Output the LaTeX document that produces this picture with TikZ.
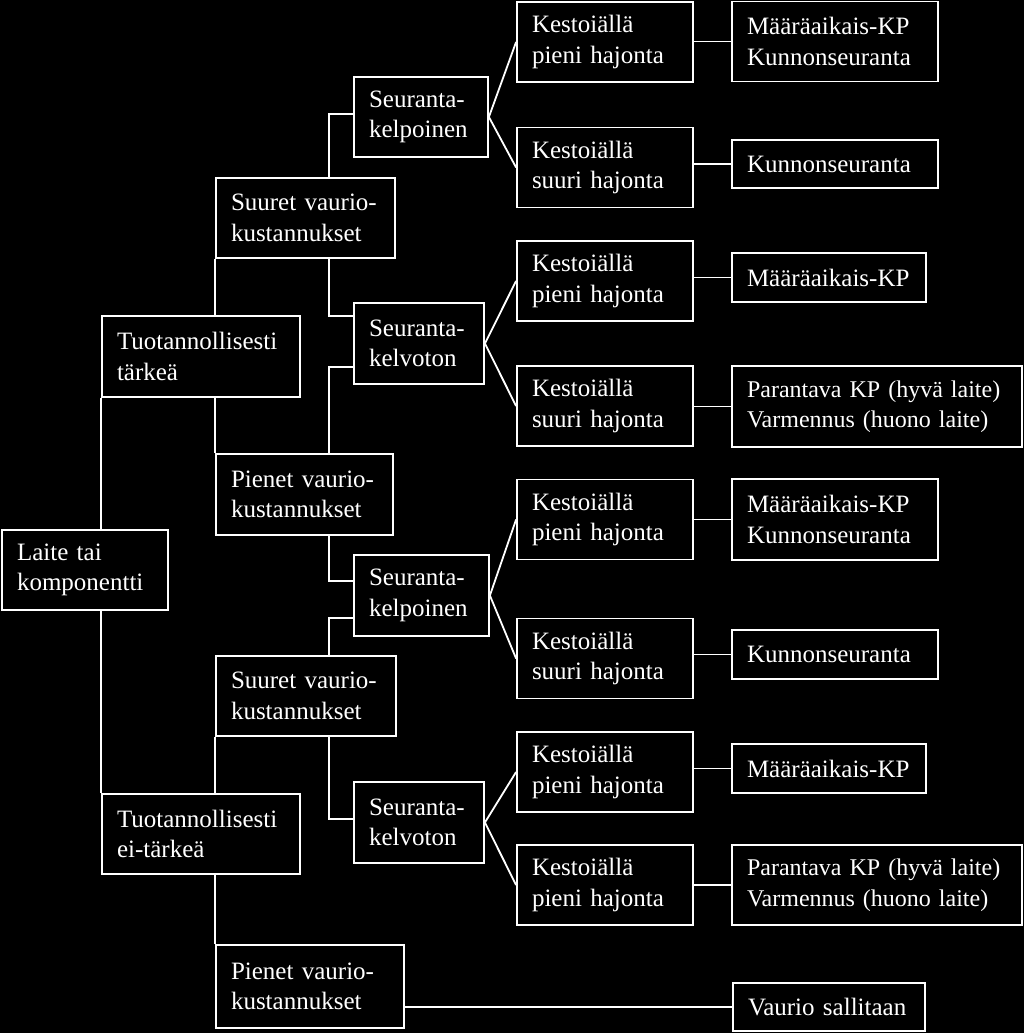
\documentclass[tikz,border=0pt]{standalone}
\usepackage{fontspec}
\setmainfont{Liberation Serif}
\usetikzlibrary{calc}
\tikzset{
  bx/.code 2 args={\pgfmathsetlengthmacro\bxw{#1-30pt}%
    \edef\bxtmp{\noexpand\pgfkeysalso{minimum width=#1, minimum height=#2, text width=\bxw}}\bxtmp},
  box/.style={draw=white, line width=1.8pt, text=white, align=left,
    inner xsep=15pt, inner ysep=2pt,
    font=\fontsize{25}{30.5}\selectfont},
  smallbox/.style={box, font=\fontsize{24}{30.5}\selectfont},
  conn/.style={draw=white, line width=1.8pt}
}
\begin{document}
\begin{tikzpicture}[x=1pt,y=-1pt]
\fill[black] (0,0) rectangle (1024,1033);
\useasboundingbox (0,0) rectangle (1024,1033);
% level 0
\node[box, bx={166pt}{80pt}] (laite) at (85,570) {Laite tai\\komponentti};
% level 1
\node[box, bx={198pt}{81pt}] (tt) at (201,356.5) {Tuotannollisesti\\tärkeä};
\node[box, bx={198pt}{80pt}] (te) at (201,834) {Tuotannollisesti\\ei-tärkeä};
% level 2
\node[box, bx={179pt}{80pt}] (st1) at (305.5,218) {Suuret vaurio-\\kustannukset};
\node[box, bx={177pt}{81pt}] (pt1) at (304.5,494.5) {Pienet vaurio-\\kustannukset};
\node[box, bx={180pt}{80pt}] (st2) at (306,696) {Suuret vaurio-\\kustannukset};
\node[box, bx={188pt}{83pt}] (pt2) at (310,986.5) {Pienet vaurio-\\kustannukset};
% level 3
\node[box, bx={134pt}{80pt}] (sk1) at (421,117) {Seuranta-\\kelpoinen};
\node[box, bx={130pt}{81pt}] (sv1) at (419,343.5) {Seuranta-\\kelvoton};
\node[box, bx={135pt}{81pt}] (sk2) at (421.5,595.5) {Seuranta-\\kelpoinen};
\node[box, bx={130pt}{81pt}] (sv2) at (419,822.5) {Seuranta-\\kelvoton};
% level 4
\node[box, bx={176pt}{80pt}] (k1) at (605,42) {Kestoiällä\\pieni hajonta};
\node[box, bx={176pt}{80pt}] (k2) at (605,167.5) {Kestoiällä\\suuri hajonta};
\node[box, bx={176pt}{80pt}] (k3) at (605,281) {Kestoiällä\\pieni hajonta};
\node[box, bx={176pt}{80pt}] (k4) at (605,406) {Kestoiällä\\suuri hajonta};
\node[box, bx={176pt}{80pt}] (k5) at (605,519.5) {Kestoiällä\\pieni hajonta};
\node[box, bx={176pt}{80pt}] (k6) at (605,658.5) {Kestoiällä\\suuri hajonta};
\node[box, bx={176pt}{80pt}] (k7) at (605,772) {Kestoiällä\\pieni hajonta};
\node[box, bx={176pt}{80pt}] (k8) at (605,885) {Kestoiällä\\pieni hajonta};
% level 5
\node[box, bx={206pt}{80pt}] (o1) at (835,41.5) {Määräaikais-KP\\Kunnonseuranta};
\node[box, bx={206pt}{48pt}] (o2) at (835,164) {Kunnonseuranta};
\node[box, bx={194pt}{49pt}] (o3) at (829,277.5) {\mbox{Määräaikais-KP}};
\node[smallbox, bx={290pt}{81pt}] (o4) at (877,406.5) {\mbox{Parantava KP (hyvä laite)}\\\mbox{Varmennus (huono laite)}};
\node[box, bx={206pt}{81pt}] (o5) at (835,519.5) {Määräaikais-KP\\Kunnonseuranta};
\node[box, bx={206pt}{49pt}] (o6) at (835,654.5) {Kunnonseuranta};
\node[box, bx={194pt}{49pt}] (o7) at (829,768.5) {\mbox{Määräaikais-KP}};
\node[smallbox, bx={290pt}{80pt}] (o8) at (877,885) {\mbox{Parantava KP (hyvä laite)}\\\mbox{Varmennus (huono laite)}};
\node[box, bx={192pt}{48pt}] (o9) at (829,1007) {\mbox{Vaurio sallitaan}};
% joint column
\coordinate (bx) at (329,0);
% connectors level 0-1
\draw[conn] (tt.south west |- laite.north) -- (tt.south west);
\draw[conn] (te.north west |- laite.south) -- (te.north west);
% level 1-2
\draw[conn] (st1.south west |- tt.north) -- (st1.south west);
\draw[conn] (pt1.north west |- tt.south) -- (pt1.north west);
\draw[conn] (st2.south west |- te.north) -- (st2.south west);
\draw[conn] (pt2.north west |- te.south) -- (pt2.north west);
% level 2-3
\draw[conn] (st1.north -| bx) |- ([yshift=3pt]sk1.west);
\draw[conn] (st1.south -| bx) |- ([yshift=27.5pt]sv1.west);
\draw[conn] (pt1.north -| bx) |- ([yshift=-23.5pt]sv1.west);
\draw[conn] (pt1.south -| bx) |- ([yshift=14.5pt]sk2.west);
\draw[conn] (st2.north -| bx) |- ([yshift=-22.5pt]sk2.west);
\draw[conn] (st2.south -| bx) |- ([yshift=3.5pt]sv2.west);
% level 3-4
\draw[conn] (k1.west) -- (sk1.east) -- (k2.west);
\draw[conn] (k3.west) -- (sv1.east) -- (k4.west);
\draw[conn] (k5.west) -- (sk2.east) -- (k6.west);
\draw[conn] (k7.west) -- (sv2.east) -- (k8.west);
% level 4-5
\draw[conn] (k1.east |- o1.west) -- (o1.west);
\draw[conn] (k2.east |- o2.west) -- (o2.west);
\draw[conn] (k3.east |- o3.west) -- (o3.west);
\draw[conn] (k4.east |- o4.west) -- (o4.west);
\draw[conn] (k5.east |- o5.west) -- (o5.west);
\draw[conn] (k6.east |- o6.west) -- (o6.west);
\draw[conn] (k7.east |- o7.west) -- (o7.west);
\draw[conn] (k8.east |- o8.west) -- (o8.west);
\draw[conn] (pt2.east |- o9.west) -- (o9.west);
\end{tikzpicture}
\end{document}
